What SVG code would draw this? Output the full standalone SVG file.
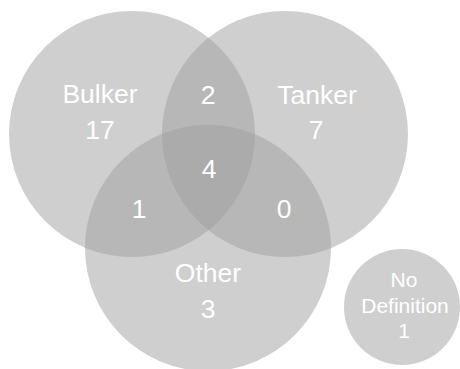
<svg xmlns="http://www.w3.org/2000/svg" width="460" height="369" viewBox="0 0 460 369">
<style>
.c{fill:#a0a0a0;fill-opacity:0.5}
.t{fill:#ffffff;font-family:"Liberation Sans",Arial,sans-serif;font-size:26.5px;text-anchor:middle}
.s{fill:#ffffff;font-family:"Liberation Sans",Arial,sans-serif;font-size:21px;text-anchor:middle}
</style>
<rect width="460" height="369" fill="#ffffff"/>
<g id="bulker"><circle class="c" cx="132" cy="134" r="123"/></g>
<g id="tanker"><circle class="c" cx="285" cy="134" r="123"/></g>
<g id="other"><circle class="c" cx="208" cy="248" r="123"/></g>
<g id="nodef"><circle class="c" cx="402" cy="307" r="58"/></g>
<g id="labels">
<text class="t" x="100" y="103">Bulker</text>
<text class="t" x="100" y="139">17</text>
<text class="t" x="208" y="104">2</text>
<text class="t" x="317" y="104">Tanker</text>
<text class="t" x="316" y="139">7</text>
<text class="t" x="209" y="178">4</text>
<text class="t" x="139" y="218">1</text>
<text class="t" x="284" y="218">0</text>
<text class="t" x="208" y="282">Other</text>
<text class="t" x="208" y="318">3</text>
<text class="s" x="404" y="287">No</text>
<text class="s" x="405" y="313">Definition</text>
<text class="s" x="404" y="338">1</text>
</g>
<g id="connectors"/>
</svg>
